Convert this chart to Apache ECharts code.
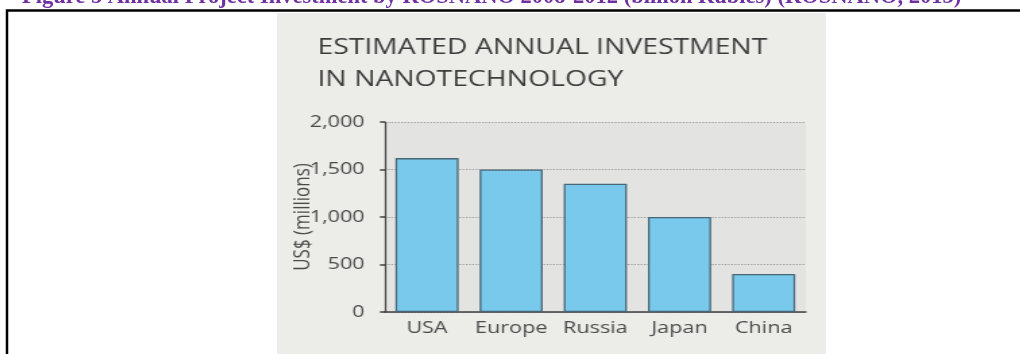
<!DOCTYPE html>
<html>
<head>
<meta charset="utf-8">
<script src="https://cdn.jsdelivr.net/npm/echarts@6/dist/echarts.min.js"></script>
<style>
html,body{margin:0;padding:0;background:#fff;overflow:hidden;}
#bg{position:absolute;left:0;top:0;width:1020px;height:354px;}
#wrap{position:absolute;left:277px;top:13px;width:407px;height:341px;transform:scaleX(1.3489);transform-origin:0 0;}
</style>
</head>
<body>
<div id="bg"></div>
<div id="wrap"></div>
<script>
var categories = ['USA', 'Europe', 'Russia', 'Japan', 'China'];
var investment = [1620, 1500, 1350, 1000, 400];
var yTicks = [0, 500, 1000, 1500, 2000];
var captionText = 'Figure 5 Annual Project Investment by ROSNANO 2008-2012 (billion Rubles) (ROSNANO, 2013)';
var titleText = 'ESTIMATED ANNUAL INVESTMENT\nIN NANOTECHNOLOGY';
var yAxisName = 'US$ (millions)';

// page frame with the (cut-off) caption
var bg = echarts.init(document.getElementById('bg'), null, {renderer: 'canvas'});
bg.setOption({
  backgroundColor: '#ffffff',
  animation: false,
  graphic: [
    {type: 'rect', z: -10, silent: true, shape: {x: 7, y: 10.5, width: 1100, height: 500},
     style: {fill: '#ffffff', stroke: '#000000', lineWidth: 2.5}},
    {type: 'text', z: 5, silent: true, left: 22, top: -14.5,
     style: {text: captionText, fill: '#7030A0', font: 'bold 22.5px "Liberation Serif", serif'}}
  ]
});

// the (horizontally stretched) chart picture
var chart = echarts.init(document.getElementById('wrap'), null, {renderer: 'canvas'});
chart.setOption({
  backgroundColor: '#ECEDE9',
  animation: false,
  title: {
    text: titleText,
    left: 30, top: 19.5, padding: 0,
    textStyle: {fontFamily: 'Open Sans', fontWeight: 'normal', fontSize: 21, color: '#3d3d3d', lineHeight: 32}
  },
  grid: {left: 80, top: 109, width: 312, height: 190, show: true, backgroundColor: '#E3E4E2', borderWidth: 0,
    containLabel: false, outerBoundsMode: 'none'},
  xAxis: {
    type: 'category', data: categories,
    axisTick: {show: false},
    axisLine: {show: true, lineStyle: {color: '#3f3f3f', width: 1.5}},
    axisLabel: {color: '#4a4a4a', fontSize: 16, fontFamily: 'Open Sans', margin: 8, interval: 0}
  },
  yAxis: {
    type: 'value', min: yTicks[0], max: yTicks[yTicks.length - 1], interval: yTicks[1] - yTicks[0],
    name: yAxisName, nameLocation: 'middle', nameGap: 52, nameRotate: 90, nameMoveOverlap: false,
    nameTextStyle: {color: '#4a4a4a', fontSize: 17, fontFamily: 'Open Sans'},
    axisLine: {show: true, lineStyle: {color: '#3f3f3f', width: 1.2}},
    axisTick: {show: true, length: 3.7, lineStyle: {color: '#3f3f3f', width: 1.5}},
    axisLabel: {color: '#4a4a4a', fontSize: 16, fontFamily: 'Open Sans', margin: 15,
      formatter: function (v) { return v.toLocaleString('en-US'); }},
    splitLine: {show: true, lineStyle: {color: '#9a9a9a', type: 'dotted', width: 1.2}}
  },
  series: [{
    type: 'bar', data: investment, barCategoryGap: '25%',
    itemStyle: {color: '#78C9EC', borderColor: '#4a6575', borderWidth: 1.3}
  }]
});
</script>
</body>
</html>
